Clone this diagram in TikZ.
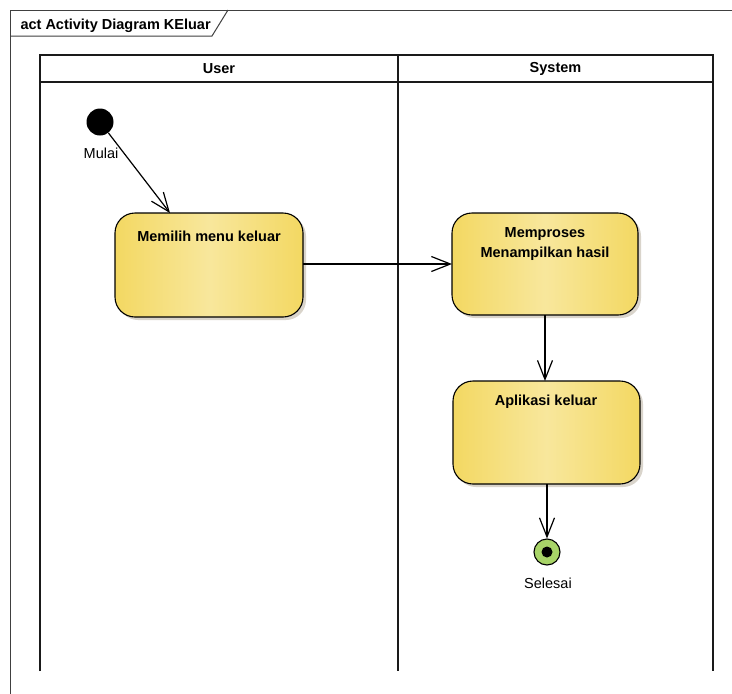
\documentclass[tikz,border=0pt]{standalone}
\usepackage{fontspec}
\setmainfont{Liberation Sans}
\usetikzlibrary{arrows.meta,positioning}

\definecolor{actEdge}{HTML}{F3D862}
\definecolor{actMid}{HTML}{F8E79C}
\definecolor{actShade}{HTML}{D9D4CB}
\definecolor{endGreen}{HTML}{A8D468}
\definecolor{laneLine}{HTML}{1A1A1A}

\tikzset{
  lbl/.style={font=\fontsize{14.5}{20}\selectfont},
  blbl/.style={font=\fontsize{14.5}{20}\selectfont\bfseries},
  lane/.style={draw=laneLine, line width=1.7pt},
  action/.style={rounded corners=20pt, draw=black, line width=1.1pt,
    left color=actEdge, right color=actEdge, middle color=actMid},
  actshadow/.style={rounded corners=20pt, fill=actShade, draw=none},
  flow/.style={draw=black, line width=1.2pt,
    -{Straight Barb[length=19pt,width=15pt,line width=1.2pt]}},
}

\begin{document}
\begin{tikzpicture}[x=1pt,y=-1pt]
  \useasboundingbox[fill=white] (0,0) rectangle (732,694);

  % diagram frame and its name tab
  \draw[black!75, line width=1pt] (10,694) -- (10,10) -- (732,10);
  \draw[black!75, line width=1pt] (10,36) -- (212,36) -- (228,10);
  \node[blbl, anchor=base west] (title) at (17,29) {act Activity Diagram KEluar};

  % swimlanes
  \draw[lane] (40,671) -- (40,55) -- (713,55) -- (713,671);
  \draw[lane] (398,55) -- (398,671);
  \draw[lane] (40,82) -- (713,82);
  \node[blbl] (laneUser) at (219,69) {User};
  \node[blbl] (laneSys) at (555.5,69) {System};

  % initial node
  \node[circle, fill=black, minimum size=27pt, inner sep=0pt] (start) at (100,122) {};
  \node[lbl] (startlbl) at (101,153) {Mulai};

  % action shadows
  \fill[actshadow] (118,216) rectangle (306,320);
  \fill[actshadow] (455,216) rectangle (641,318);
  \fill[actshadow] (456,384) rectangle (643,487);

  % actions
  \path[action] (115,213) rectangle (303,317);
  \node[blbl, anchor=center] (a1txt) at (209,236) {Memilih menu keluar};
  \coordinate (a1n) at (170,213);
  \coordinate (a1e) at (303,264);

  \path[action] (452,213) rectangle (638,315);
  \node[blbl, align=center, anchor=north] (a2txt) at (545,224) {Memproses\\Menampilkan hasil};
  \coordinate (a2w) at (452,264);
  \coordinate (a2s) at (545,315);

  \path[action] (453,381) rectangle (640,484);
  \node[blbl] (a3txt) at (546,402) {Aplikasi keluar};
  \coordinate (a3n) at (545,381);
  \coordinate (a3s) at (547,484);

  % final node
  \node[circle, draw=black, line width=1.1pt, fill=endGreen, minimum size=26pt, inner sep=0pt] (final) at (547,552) {};
  \fill[black] (final.center) circle (5.5pt);
  \node[lbl] (endlbl) at (548,583) {Selesai};

  % control flows
  \draw[flow] (start) -- (a1n);
  \draw[flow] (a1e) -- (a2w);
  \draw[flow] (a2s) -- (a3n);
  \draw[flow] (a3s) -- (final);
\end{tikzpicture}
\end{document}
